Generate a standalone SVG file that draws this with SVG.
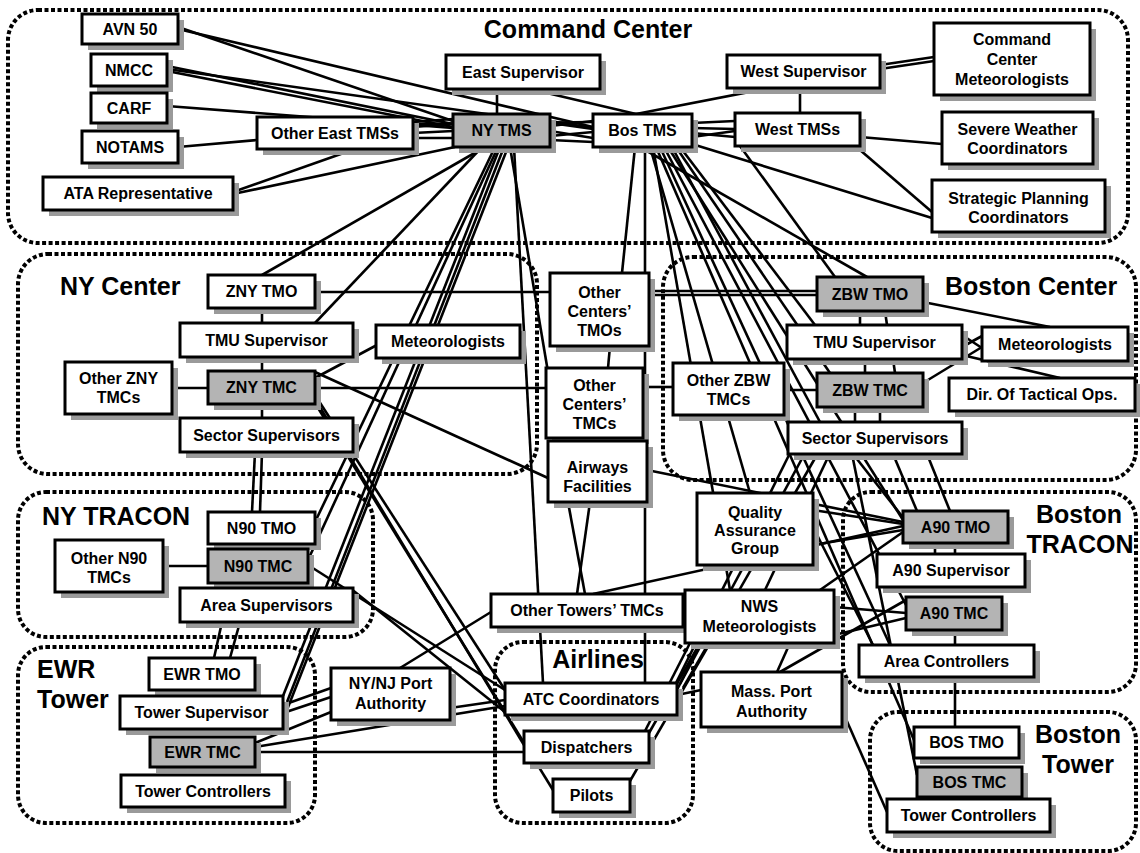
<svg xmlns="http://www.w3.org/2000/svg" width="1140" height="853" viewBox="0 0 1140 853">
<style>
.grp{fill:none;stroke:#000;stroke-width:4;stroke-dasharray:4 2.5}
.c line{stroke:#000;stroke-width:2.6}
.sh{fill:#9a9a9a}
.bx{fill:#fff;stroke:#000;stroke-width:3}
.gy{fill:#b4b4b4;stroke:#000;stroke-width:3}
.t{font-family:"Liberation Sans",Arial,sans-serif;font-weight:bold;font-size:16px;text-anchor:middle;fill:#000}
.h{font-family:"Liberation Sans",Arial,sans-serif;font-weight:bold;font-size:25px;fill:#000}
.hm{text-anchor:middle}
</style>
<rect width="1140" height="853" fill="#fff"/>
<g id="groups">
<rect class="grp" x="8" y="10" width="1120" height="233" rx="30"/>
<rect class="grp" x="18" y="254" width="519" height="220" rx="30"/>
<rect class="grp" x="663" y="257" width="473" height="223" rx="30"/>
<rect class="grp" x="18" y="492" width="355" height="145" rx="28"/>
<rect class="grp" x="18" y="647" width="297" height="176" rx="28"/>
<rect class="grp" x="495" y="642" width="198" height="181" rx="28"/>
<rect class="grp" x="843" y="492" width="293" height="200" rx="28"/>
<rect class="grp" x="870" y="712" width="266" height="139" rx="28"/>
<text class="h hm" x="588" y="38">Command Center</text>
<text class="h" x="60" y="295">NY Center</text>
<text class="h" x="945" y="295">Boston Center</text>
<text class="h" x="42" y="525">NY TRACON</text>
<text class="h" x="37" y="678">EWR</text>
<text class="h" x="37" y="708">Tower</text>
<text class="h hm" x="598" y="668">Airlines</text>
<text class="h hm" x="1079" y="523">Boston</text>
<text class="h hm" x="1080" y="553">TRACON</text>
<text class="h hm" x="1078" y="743">Boston</text>
<text class="h hm" x="1078" y="773">Tower</text>
</g>
<g id="connectors" class="c">
<line x1="178" y1="27" x2="453" y2="121"/>
<line x1="178" y1="29" x2="593" y2="127"/>
<line x1="167" y1="66" x2="453" y2="124"/>
<line x1="167" y1="69" x2="593" y2="129"/>
<line x1="167" y1="71" x2="453" y2="127"/>
<line x1="167" y1="106" x2="453" y2="128"/>
<line x1="178" y1="147" x2="257" y2="140"/>
<line x1="233" y1="192" x2="355" y2="149"/>
<line x1="233" y1="194" x2="455" y2="147"/>
<line x1="413" y1="122" x2="453" y2="119"/>
<line x1="413" y1="127" x2="453" y2="124"/>
<line x1="413" y1="133" x2="453" y2="131"/>
<line x1="413" y1="138" x2="453" y2="138"/>
<line x1="413" y1="124" x2="593" y2="122"/>
<line x1="497" y1="89" x2="497" y2="114"/>
<line x1="530" y1="89" x2="636" y2="114"/>
<line x1="770" y1="88" x2="636" y2="114"/>
<line x1="800" y1="88" x2="800" y2="113"/>
<line x1="880" y1="65" x2="934" y2="57"/>
<line x1="880" y1="69" x2="934" y2="61"/>
<line x1="692" y1="123" x2="735" y2="121"/>
<line x1="692" y1="128" x2="735" y2="129"/>
<line x1="692" y1="133" x2="735" y2="137"/>
<line x1="692" y1="137" x2="735" y2="131"/>
<line x1="860" y1="137" x2="942" y2="144"/>
<line x1="860" y1="150" x2="932" y2="212"/>
<line x1="692" y1="144" x2="932" y2="218"/>
<line x1="550" y1="121" x2="593" y2="128"/>
<line x1="550" y1="126" x2="593" y2="121"/>
<line x1="550" y1="131" x2="593" y2="138"/>
<line x1="550" y1="136" x2="593" y2="132"/>
<line x1="550" y1="140" x2="593" y2="142"/>
<line x1="485" y1="147" x2="262" y2="275"/>
<line x1="482" y1="147" x2="315" y2="323"/>
<line x1="495" y1="147" x2="315" y2="522"/>
<line x1="498" y1="147" x2="308" y2="560"/>
<line x1="500" y1="147" x2="283" y2="696"/>
<line x1="504" y1="147" x2="287" y2="702"/>
<line x1="508" y1="147" x2="283" y2="720"/>
<line x1="510" y1="147" x2="548" y2="372"/>
<line x1="514" y1="147" x2="543" y2="683"/>
<line x1="315" y1="292" x2="550" y2="292"/>
<line x1="262" y1="308" x2="262" y2="323"/>
<line x1="262" y1="357" x2="262" y2="371"/>
<line x1="262" y1="404" x2="262" y2="418"/>
<line x1="172" y1="388" x2="208" y2="388"/>
<line x1="315" y1="378" x2="377" y2="345"/>
<line x1="315" y1="388" x2="546" y2="388"/>
<line x1="315" y1="372" x2="548" y2="478"/>
<line x1="315" y1="395" x2="505" y2="690"/>
<line x1="315" y1="399" x2="524" y2="745"/>
<line x1="315" y1="403" x2="553" y2="790"/>
<line x1="610" y1="346" x2="608" y2="368"/>
<line x1="643" y1="387" x2="673" y2="387"/>
<line x1="784" y1="390" x2="817" y2="390"/>
<line x1="649" y1="291" x2="817" y2="291"/>
<line x1="649" y1="295" x2="817" y2="295"/>
<line x1="565" y1="438" x2="565" y2="441"/>
<line x1="600" y1="438" x2="600" y2="441"/>
<line x1="255" y1="452" x2="252" y2="512"/>
<line x1="262" y1="452" x2="260" y2="512"/>
<line x1="222" y1="622" x2="214" y2="658"/>
<line x1="240" y1="622" x2="230" y2="658"/>
<line x1="163" y1="566" x2="208" y2="566"/>
<line x1="308" y1="565" x2="505" y2="690"/>
<line x1="350" y1="588" x2="505" y2="712"/>
<line x1="283" y1="705" x2="331" y2="688"/>
<line x1="283" y1="713" x2="331" y2="697"/>
<line x1="255" y1="743" x2="331" y2="712"/>
<line x1="255" y1="747" x2="505" y2="706"/>
<line x1="255" y1="752" x2="524" y2="752"/>
<line x1="450" y1="708" x2="505" y2="700"/>
<line x1="400" y1="668" x2="491" y2="612"/>
<line x1="593" y1="594" x2="903" y2="526"/>
<line x1="568" y1="502" x2="585" y2="594"/>
<line x1="590" y1="502" x2="577" y2="594"/>
<line x1="647" y1="470" x2="903" y2="522"/>
<line x1="635" y1="147" x2="622" y2="273"/>
<line x1="645" y1="147" x2="645" y2="683"/>
<line x1="650" y1="147" x2="750" y2="493"/>
<line x1="653" y1="147" x2="730" y2="590"/>
<line x1="656" y1="147" x2="914" y2="740"/>
<line x1="660" y1="147" x2="890" y2="645"/>
<line x1="664" y1="147" x2="906" y2="605"/>
<line x1="668" y1="147" x2="903" y2="520"/>
<line x1="672" y1="147" x2="820" y2="422"/>
<line x1="676" y1="147" x2="830" y2="373"/>
<line x1="680" y1="147" x2="815" y2="325"/>
<line x1="640" y1="147" x2="867" y2="277"/>
<line x1="740" y1="146" x2="835" y2="277"/>
<line x1="860" y1="311" x2="860" y2="325"/>
<line x1="885" y1="311" x2="887" y2="325"/>
<line x1="865" y1="359" x2="865" y2="373"/>
<line x1="893" y1="359" x2="895" y2="373"/>
<line x1="855" y1="407" x2="855" y2="422"/>
<line x1="880" y1="407" x2="880" y2="422"/>
<line x1="923" y1="302" x2="1050" y2="327"/>
<line x1="962" y1="335" x2="982" y2="348"/>
<line x1="962" y1="347" x2="982" y2="336"/>
<line x1="923" y1="383" x2="982" y2="347"/>
<line x1="962" y1="355" x2="1060" y2="378"/>
<line x1="927" y1="454" x2="950" y2="511"/>
<line x1="893" y1="454" x2="917" y2="511"/>
<line x1="853" y1="454" x2="905" y2="520"/>
<line x1="852" y1="454" x2="917" y2="775"/>
<line x1="676" y1="683" x2="790" y2="453"/>
<line x1="680" y1="684" x2="805" y2="453"/>
<line x1="683" y1="688" x2="818" y2="453"/>
<line x1="765" y1="590" x2="830" y2="453"/>
<line x1="813" y1="510" x2="903" y2="524"/>
<line x1="813" y1="545" x2="903" y2="530"/>
<line x1="820" y1="590" x2="903" y2="532"/>
<line x1="834" y1="607" x2="906" y2="613"/>
<line x1="834" y1="635" x2="906" y2="618"/>
<line x1="813" y1="527" x2="873" y2="645"/>
<line x1="935" y1="543" x2="935" y2="554"/>
<line x1="955" y1="543" x2="955" y2="554"/>
<line x1="955" y1="630" x2="955" y2="645"/>
<line x1="955" y1="677" x2="955" y2="727"/>
<line x1="842" y1="710" x2="887" y2="812"/>
<line x1="777" y1="672" x2="790" y2="643"/>
<line x1="780" y1="672" x2="906" y2="600"/>
<line x1="649" y1="733" x2="700" y2="643"/>
<line x1="645" y1="731" x2="690" y2="643"/>
<line x1="630" y1="781" x2="710" y2="643"/>
<line x1="677" y1="690" x2="700" y2="643"/>
<line x1="677" y1="695" x2="701" y2="690"/>
</g>
<g id="n-avn50"><rect class="sh" x="88" y="20" width="96" height="30"/><rect class="bx" x="82" y="14" width="96" height="30"/><text class="t" x="130" y="34.5">AVN 50</text></g>
<g id="n-nmcc"><rect class="sh" x="97" y="60" width="76" height="32"/><rect class="bx" x="91" y="54" width="76" height="32"/><text class="t" x="129" y="75.5">NMCC</text></g>
<g id="n-carf"><rect class="sh" x="97" y="99" width="76" height="30"/><rect class="bx" x="91" y="93" width="76" height="30"/><text class="t" x="129" y="113.5">CARF</text></g>
<g id="n-notams"><rect class="sh" x="88" y="137" width="96" height="32"/><rect class="bx" x="82" y="131" width="96" height="32"/><text class="t" x="130" y="152.5">NOTAMS</text></g>
<g id="n-ata"><rect class="sh" x="49" y="183" width="190" height="33"/><rect class="bx" x="43" y="177" width="190" height="33"/><text class="t" x="138" y="199">ATA Representative</text></g>
<g id="n-oeast"><rect class="sh" x="263" y="123" width="156" height="32"/><rect class="bx" x="257" y="117" width="156" height="32"/><text class="t" x="335" y="138.5">Other East TMSs</text></g>
<g id="n-nytms"><rect class="sh" x="459" y="120" width="97" height="33"/><rect class="gy" x="453" y="114" width="97" height="33"/><text class="t" x="501.5" y="136">NY TMS</text></g>
<g id="n-esup"><rect class="sh" x="452" y="61" width="154" height="34"/><rect class="bx" x="446" y="55" width="154" height="34"/><text class="t" x="523" y="77.5">East Supervisor</text></g>
<g id="n-bostms"><rect class="sh" x="599" y="120" width="99" height="33"/><rect class="bx" x="593" y="114" width="99" height="33"/><text class="t" x="642.5" y="136">Bos TMS</text></g>
<g id="n-wsup"><rect class="sh" x="733" y="61" width="153" height="33"/><rect class="bx" x="727" y="55" width="153" height="33"/><text class="t" x="803.5" y="77">West Supervisor</text></g>
<g id="n-wtms"><rect class="sh" x="741" y="119" width="125" height="33"/><rect class="bx" x="735" y="113" width="125" height="33"/><text class="t" x="797.5" y="135">West TMSs</text></g>
<g id="n-ccmet"><rect class="sh" x="940" y="29" width="156" height="72"/><rect class="bx" x="934" y="23" width="156" height="72"/><text class="t" x="1012" y="45">Command</text><text class="t" x="1012" y="65">Center</text><text class="t" x="1012" y="85">Meteorologists</text></g>
<g id="n-swc"><rect class="sh" x="948" y="118" width="151" height="52"/><rect class="bx" x="942" y="112" width="151" height="52"/><text class="t" x="1017.5" y="134.5">Severe Weather</text><text class="t" x="1017.5" y="153.5">Coordinators</text></g>
<g id="n-spc"><rect class="sh" x="938" y="186" width="173" height="52"/><rect class="bx" x="932" y="180" width="173" height="52"/><text class="t" x="1018.5" y="203.5">Strategic Planning</text><text class="t" x="1018.5" y="222.5">Coordinators</text></g>
<g id="n-znytmo"><rect class="sh" x="214" y="281" width="107" height="33"/><rect class="bx" x="208" y="275" width="107" height="33"/><text class="t" x="261.5" y="297">ZNY TMO</text></g>
<g id="n-nytmu"><rect class="sh" x="186" y="329" width="173" height="34"/><rect class="bx" x="180" y="323" width="173" height="34"/><text class="t" x="266.5" y="345.5">TMU Supervisor</text></g>
<g id="n-oznytmc"><rect class="sh" x="71" y="368" width="107" height="52"/><rect class="bx" x="65" y="362" width="107" height="52"/><text class="t" x="118.5" y="383.5">Other ZNY</text><text class="t" x="118.5" y="402.5">TMCs</text></g>
<g id="n-znytmc"><rect class="sh" x="214" y="377" width="107" height="33"/><rect class="gy" x="208" y="371" width="107" height="33"/><text class="t" x="261.5" y="393">ZNY TMC</text></g>
<g id="n-nysec"><rect class="sh" x="186" y="424" width="173" height="34"/><rect class="bx" x="180" y="418" width="173" height="34"/><text class="t" x="266.5" y="440.5">Sector Supervisors</text></g>
<g id="n-nymet"><rect class="sh" x="382" y="331" width="144" height="33"/><rect class="bx" x="376" y="325" width="144" height="33"/><text class="t" x="448" y="347">Meteorologists</text></g>
<g id="n-octmo"><rect class="sh" x="556" y="279" width="99" height="73"/><rect class="bx" x="550" y="273" width="99" height="73"/><text class="t" x="599.5" y="297.5">Other</text><text class="t" x="599.5" y="317">Centers’</text><text class="t" x="599.5" y="336">TMOs</text></g>
<g id="n-octmc"><rect class="sh" x="552" y="374" width="97" height="70"/><rect class="bx" x="546" y="368" width="97" height="70"/><text class="t" x="594.5" y="390.5">Other</text><text class="t" x="594.5" y="409.5">Centers’</text><text class="t" x="594.5" y="428.5">TMCs</text></g>
<g id="n-ozbwtmc"><rect class="sh" x="679" y="369" width="111" height="52"/><rect class="bx" x="673" y="363" width="111" height="52"/><text class="t" x="728.5" y="385.5">Other ZBW</text><text class="t" x="728.5" y="404.5">TMCs</text></g>
<g id="n-awf"><rect class="sh" x="554" y="447" width="99" height="61"/><rect class="bx" x="548" y="441" width="99" height="61"/><text class="t" x="597.5" y="472.5">Airways</text><text class="t" x="597.5" y="491.5">Facilities</text></g>
<g id="n-zbwtmo"><rect class="sh" x="823" y="283" width="106" height="34"/><rect class="gy" x="817" y="277" width="106" height="34"/><text class="t" x="870" y="299.5">ZBW TMO</text></g>
<g id="n-bostmu"><rect class="sh" x="793" y="331" width="175" height="34"/><rect class="bx" x="787" y="325" width="175" height="34"/><text class="t" x="874.5" y="347.5">TMU Supervisor</text></g>
<g id="n-bosmet"><rect class="sh" x="988" y="333" width="146" height="34"/><rect class="bx" x="982" y="327" width="146" height="34"/><text class="t" x="1055" y="349.5">Meteorologists</text></g>
<g id="n-zbwtmc"><rect class="sh" x="823" y="379" width="106" height="34"/><rect class="gy" x="817" y="373" width="106" height="34"/><text class="t" x="870" y="395.5">ZBW TMC</text></g>
<g id="n-dto"><rect class="sh" x="955" y="384" width="186" height="33"/><rect class="bx" x="949" y="378" width="186" height="33"/><text class="t" x="1042" y="400">Dir. Of Tactical Ops.</text></g>
<g id="n-bossec"><rect class="sh" x="794" y="428" width="174" height="32"/><rect class="bx" x="788" y="422" width="174" height="32"/><text class="t" x="875" y="443.5">Sector Supervisors</text></g>
<g id="n-n90tmo"><rect class="sh" x="214" y="518" width="107" height="32"/><rect class="bx" x="208" y="512" width="107" height="32"/><text class="t" x="261.5" y="533.5">N90 TMO</text></g>
<g id="n-on90"><rect class="sh" x="61" y="546" width="108" height="52"/><rect class="bx" x="55" y="540" width="108" height="52"/><text class="t" x="109" y="563.5">Other N90</text><text class="t" x="109" y="582.5">TMCs</text></g>
<g id="n-n90tmc"><rect class="sh" x="214" y="555" width="100" height="34"/><rect class="gy" x="208" y="549" width="100" height="34"/><text class="t" x="258" y="571.5">N90 TMC</text></g>
<g id="n-areasup"><rect class="sh" x="186" y="594" width="173" height="34"/><rect class="bx" x="180" y="588" width="173" height="34"/><text class="t" x="266.5" y="610.5">Area Supervisors</text></g>
<g id="n-ewrtmo"><rect class="sh" x="155" y="664" width="106" height="32"/><rect class="bx" x="149" y="658" width="106" height="32"/><text class="t" x="202" y="679.5">EWR TMO</text></g>
<g id="n-towsup"><rect class="sh" x="126" y="702" width="163" height="33"/><rect class="bx" x="120" y="696" width="163" height="33"/><text class="t" x="201.5" y="718">Tower Supervisor</text></g>
<g id="n-ewrtmc"><rect class="sh" x="156" y="743" width="105" height="30"/><rect class="gy" x="150" y="737" width="105" height="30"/><text class="t" x="202.5" y="757.5">EWR TMC</text></g>
<g id="n-towctl"><rect class="sh" x="127" y="781" width="164" height="32"/><rect class="bx" x="121" y="775" width="164" height="32"/><text class="t" x="203" y="796.5">Tower Controllers</text></g>
<g id="n-nynj"><rect class="sh" x="337" y="674" width="119" height="52"/><rect class="bx" x="331" y="668" width="119" height="52"/><text class="t" x="390.5" y="689">NY/NJ Port</text><text class="t" x="390.5" y="708.5">Authority</text></g>
<g id="n-otow"><rect class="sh" x="497" y="600" width="192" height="33"/><rect class="bx" x="491" y="594" width="192" height="33"/><text class="t" x="587" y="616">Other Towers’ TMCs</text></g>
<g id="n-atc"><rect class="sh" x="511" y="689" width="172" height="32"/><rect class="bx" x="505" y="683" width="172" height="32"/><text class="t" x="591" y="704.5">ATC Coordinators</text></g>
<g id="n-disp"><rect class="sh" x="530" y="737" width="125" height="32"/><rect class="bx" x="524" y="731" width="125" height="32"/><text class="t" x="586.5" y="752.5">Dispatchers</text></g>
<g id="n-pilots"><rect class="sh" x="559" y="785" width="77" height="33"/><rect class="bx" x="553" y="779" width="77" height="33"/><text class="t" x="591.5" y="801">Pilots</text></g>
<g id="n-qa"><rect class="sh" x="703" y="499" width="116" height="72"/><rect class="bx" x="697" y="493" width="116" height="72"/><text class="t" x="755" y="517.5">Quality</text><text class="t" x="755" y="535.5">Assurance</text><text class="t" x="755" y="553.5">Group</text></g>
<g id="n-nws"><rect class="sh" x="691" y="596" width="149" height="53"/><rect class="bx" x="685" y="590" width="149" height="53"/><text class="t" x="759.5" y="612">NWS</text><text class="t" x="759.5" y="631.5">Meteorologists</text></g>
<g id="n-massport"><rect class="sh" x="707" y="678" width="141" height="55"/><rect class="bx" x="701" y="672" width="141" height="55"/><text class="t" x="771.5" y="697">Mass. Port</text><text class="t" x="771.5" y="716.5">Authority</text></g>
<g id="n-a90tmo"><rect class="sh" x="909" y="517" width="105" height="32"/><rect class="gy" x="903" y="511" width="105" height="32"/><text class="t" x="955.5" y="532.5">A90 TMO</text></g>
<g id="n-a90sup"><rect class="sh" x="883" y="560" width="148" height="33"/><rect class="bx" x="877" y="554" width="148" height="33"/><text class="t" x="951" y="576">A90 Supervisor</text></g>
<g id="n-a90tmc"><rect class="sh" x="912" y="603" width="96" height="33"/><rect class="gy" x="906" y="597" width="96" height="33"/><text class="t" x="954" y="619">A90 TMC</text></g>
<g id="n-areactl"><rect class="sh" x="865" y="651" width="175" height="32"/><rect class="bx" x="859" y="645" width="175" height="32"/><text class="t" x="946.5" y="666.5">Area Controllers</text></g>
<g id="n-bostmo"><rect class="sh" x="920" y="733" width="105" height="31"/><rect class="bx" x="914" y="727" width="105" height="31"/><text class="t" x="966.5" y="748">BOS TMO</text></g>
<g id="n-bostmc"><rect class="sh" x="923" y="773" width="105" height="30"/><rect class="gy" x="917" y="767" width="105" height="30"/><text class="t" x="969.5" y="787.5">BOS TMC</text></g>
<g id="n-bostowctl"><rect class="sh" x="893" y="805" width="163" height="33"/><rect class="bx" x="887" y="799" width="163" height="33"/><text class="t" x="968.5" y="821">Tower Controllers</text></g>
</svg>
